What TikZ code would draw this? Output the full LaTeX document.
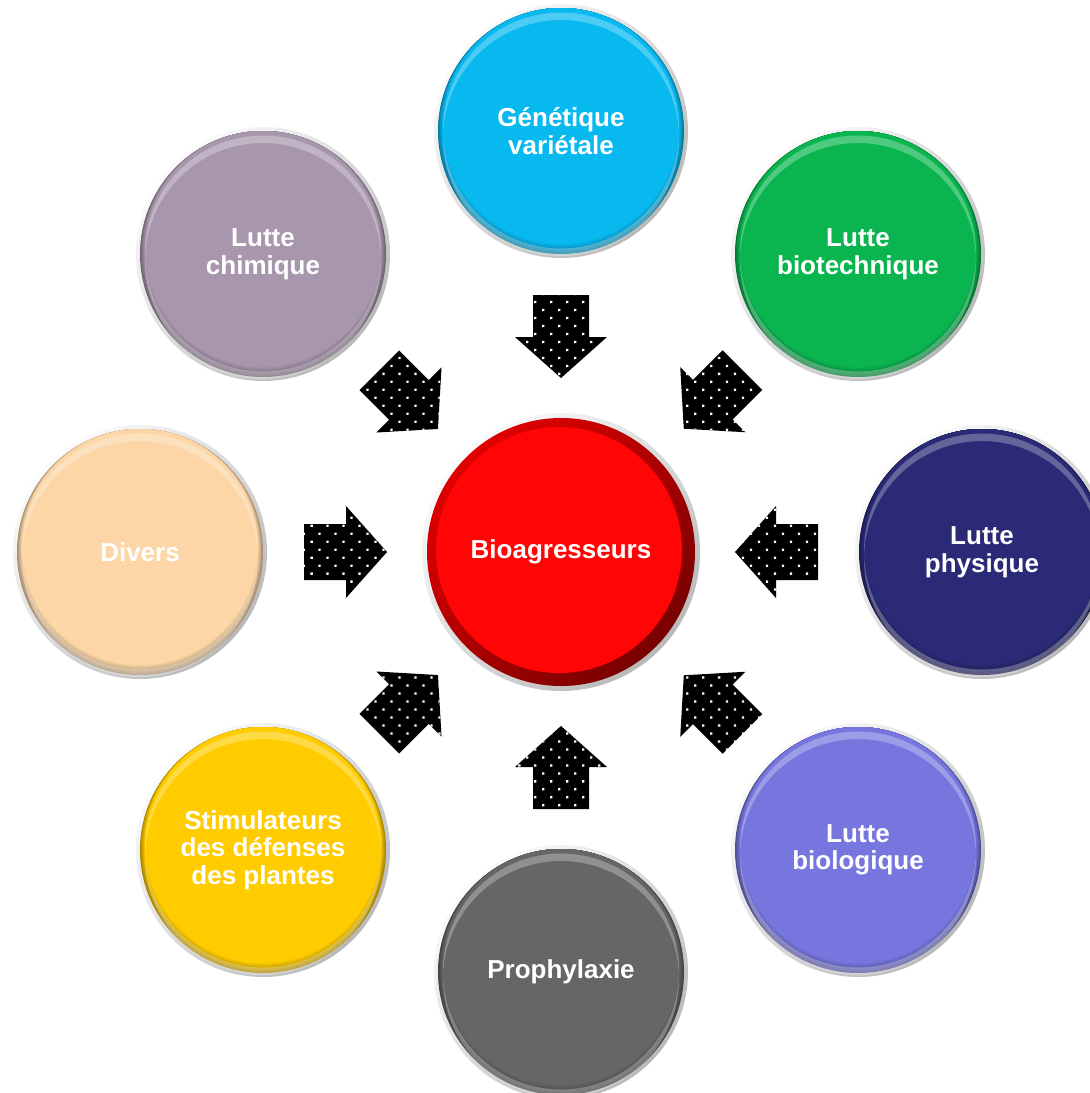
\documentclass[tikz,border=0pt]{standalone}
\usepackage{fontspec}
\setmainfont{Liberation Sans}
\usetikzlibrary{calc,patterns.meta}
\definecolor{cGen}{RGB}{8,185,240}
\definecolor{cChim}{RGB}{168,150,172}
\definecolor{cBiot}{RGB}{10,181,80}
\definecolor{cDiv}{RGB}{252,214,166}
\definecolor{cPhys}{RGB}{42,42,118}
\definecolor{cStim}{RGB}{255,204,0}
\definecolor{cBiol}{RGB}{118,118,222}
\definecolor{cProph}{RGB}{102,102,102}
\definecolor{cHub}{RGB}{255,5,5}
\definecolor{cHubDark}{RGB}{120,0,0}
\tikzset{
  lbl/.style={text=white, align=center, font=\bfseries\fontsize{26}{27.5}\selectfont},
  ball/.style={circle, minimum size=254pt, inner sep=0pt, lbl,
    top color=gray!3, bottom color=gray!55, shading angle=45,
    path picture={
      \coordinate (pc) at (path picture bounding box.center);
      \foreach \k in {0,1,...,10}{
        \pgfmathsetmacro\pct{65+3.5*\k}
        \pgfmathsetmacro\rr{123-0.5*\k}
        \pgfmathsetmacro\dy{0.5*\k}
        \fill[#1!\pct!black] ([yshift=\dy pt]pc) circle (\rr pt);
      }
      \fill[white, opacity=0.28, even odd rule] ([yshift=0.5pt]pc) circle (118pt) ([yshift=-7pt]pc) circle (118pt);
    }},
  hub/.style={circle, minimum size=278pt, inner sep=0pt, lbl,
    top color=gray!3, bottom color=gray!55, shading angle=45,
    path picture={
      \coordinate (pc) at (path picture bounding box.center);
      \shade[top color=red!88!black, bottom color=cHubDark, shading angle=45] (pc) circle (134pt);
      \fill[cHub] ([xshift=-2pt,yshift=2pt]pc) circle (123pt);
    }},
  blockarrow/.style={preaction={fill=black},
    pattern={Dots[distance=11.3pt, angle=45, radius=1.6pt]}, pattern color=white}
}
\begin{document}
\begin{tikzpicture}[x=1pt,y=1pt]
\fill[white] (0,0) rectangle (1090,-1093);
\clip (0,0) rectangle (1090,-1093);

\node[hub] (c) at (561,-552) {Bioagresseurs};
\node[ball=cGen]   (gen)   at (561,-131) {Génétique\\variétale};
\node[ball=cBiot]  (biot)  at (858,-254) {Lutte\\biotechnique};
\node[ball=cPhys]  (phys)  at (982,-552) {Lutte\\physique};
\node[ball=cBiol]  (biol)  at (858,-850) {Lutte\\biologique};
\node[ball=cProph] (proph) at (561,-972) {Prophylaxie};
\node[ball=cStim]  (stim)  at (263,-850) {Stimulateurs\\des défenses\\des plantes};
\node[ball=cDiv]   (div)   at (140,-552) {Divers};
\node[ball=cChim]  (chim)  at (263,-254) {Lutte\\chimique};

\foreach \n/\ang in {gen/-90, biot/225, phys/180, biol/135, proph/90, stim/45, div/0, chim/-45}{
  \coordinate (a-\n) at ($(c.center)!215pt!(\n.center)$);
  \path[blockarrow, shift={(a-\n)}, rotate=\ang]
    (-42,-28) -- (0,-28) -- (0,-46) -- (41,0) -- (0,46) -- (0,28) -- (-42,28) -- cycle;
}
\end{tikzpicture}
\end{document}
